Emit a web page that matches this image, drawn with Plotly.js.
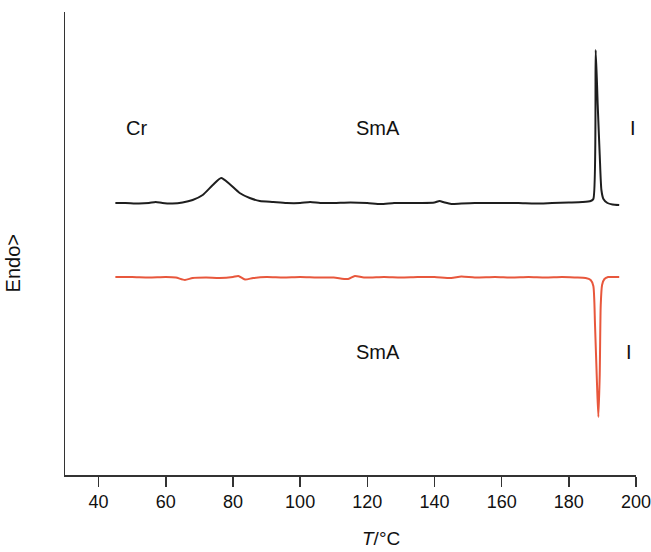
<!DOCTYPE html>
<html>
<head>
<meta charset="utf-8">
<script src="https://cdn.plot.ly/plotly-3.0.1.min.js"></script>
<style>html,body{margin:0;padding:0;background:#fff;}#chart{width:651px;height:552px;}</style>
</head>
<body>
<div id="chart"></div>
<script>
// Heating trace (black) – temperature (°C) and heat-flow signal (arbitrary units)
const heatT = [45, 48, 52, 55, 57, 59, 62, 65, 68, 71, 74, 76.5, 79, 82, 85, 88, 92, 96, 100, 103, 106, 110, 115, 120, 124, 128, 132, 136, 140, 141.5, 143, 145, 148, 152, 156, 160, 165, 170, 175, 180, 184, 186.5, 187.3, 188.0, 188.6, 189.2, 189.7, 190.3, 191.5, 193, 195];
const heatY = [272, 272, 271.5, 272, 273, 272, 271.5, 272.5, 275, 280, 290, 297, 291, 282, 277, 274, 273, 272, 272, 273, 272, 272, 272.5, 272, 271, 272, 272, 272, 272.5, 274, 272.5, 271, 271.5, 272, 272, 272, 272, 271.5, 272, 272.5, 273, 274, 276, 425, 370, 320, 285, 276, 272, 270.5, 270];

// Cooling trace (red)
const coolT = [45, 50, 55, 60, 63, 65.7, 68, 72, 76, 80, 81.6, 83.6, 86, 90, 95, 100, 105, 110, 114.3, 116.3, 119, 125, 130, 135, 140, 145, 148, 152, 158, 163, 168, 173, 178, 182, 185, 186.5, 187.3, 187.8, 188.4, 188.8, 189.2, 189.5, 189.9, 190.6, 191.7, 193, 195];
const coolY = [198, 198, 197.5, 198, 197.5, 195, 197, 197.5, 197, 198, 199, 195.5, 197, 198, 197.5, 198, 197.5, 197.5, 196, 199, 197.5, 198, 197.5, 198, 198, 197, 198.5, 197.5, 198, 197.5, 198, 197.5, 198, 197.5, 197, 195, 189, 150, 90, 58, 100, 170, 190, 196, 198, 198, 198];

// Phase labels
const labelText = ["Cr", "SmA", "I", "SmA", "I"];
const labelT = [51.4, 123.2, 199.1, 123.2, 197.9];
const labelY = [347, 347, 347, 123, 123];

const xTicks = [40, 60, 80, 100, 120, 140, 160, 180, 200];

const traces = [
  {x: heatT, y: heatY, mode: 'lines', line: {color: '#1e1e1e', width: 2, shape: 'spline', smoothing: 0.6}, hoverinfo: 'skip'},
  {x: coolT, y: coolY, mode: 'lines', line: {color: '#e8573c', width: 2, shape: 'spline', smoothing: 0.6}, hoverinfo: 'skip'}
];

const fontFam = 'Liberation Sans, Arial, sans-serif';
const annotations = labelText.map((t, i) => ({
  x: labelT[i], y: labelY[i], xref: 'x', yref: 'y', text: t, showarrow: false,
  font: {family: fontFam, size: 20, color: '#111'}
}));
annotations.push({
  x: 0.553, y: -0.137, xref: 'paper', yref: 'paper', text: '<i>T</i>/°C', showarrow: false,
  xanchor: 'center', yanchor: 'middle',
  font: {family: fontFam, size: 19, color: '#111'}
});
annotations.push({
  x: -0.091, y: 0.457, xref: 'paper', yref: 'paper', text: 'Endo>', showarrow: false,
  textangle: -90, xanchor: 'center', yanchor: 'middle',
  font: {family: fontFam, size: 20, color: '#111'}
});

const layout = {
  width: 651, height: 552,
  margin: {l: 65, r: 15, t: 12, b: 77},
  paper_bgcolor: '#ffffff', plot_bgcolor: '#ffffff',
  showlegend: false,
  font: {family: fontFam, color: '#111'},
  xaxis: {
    range: [30, 200], tickvals: xTicks, ticktext: xTicks.map(String),
    showgrid: false, zeroline: false, showline: true, linecolor: '#333', linewidth: 1.5,
    ticks: 'outside', ticklen: 10, tickwidth: 1.5, tickcolor: '#333',
    ticklabeloverflow: 'allow',
    tickfont: {size: 18, color: '#111'}
  },
  yaxis: {
    range: [0, 463], showgrid: false, zeroline: false, showline: true, linecolor: '#333', linewidth: 1.5,
    showticklabels: false, ticks: ''
  },
  annotations: annotations
};

Plotly.newPlot('chart', traces, layout, {staticPlot: true, displayModeBar: false});
</script>
</body>
</html>
